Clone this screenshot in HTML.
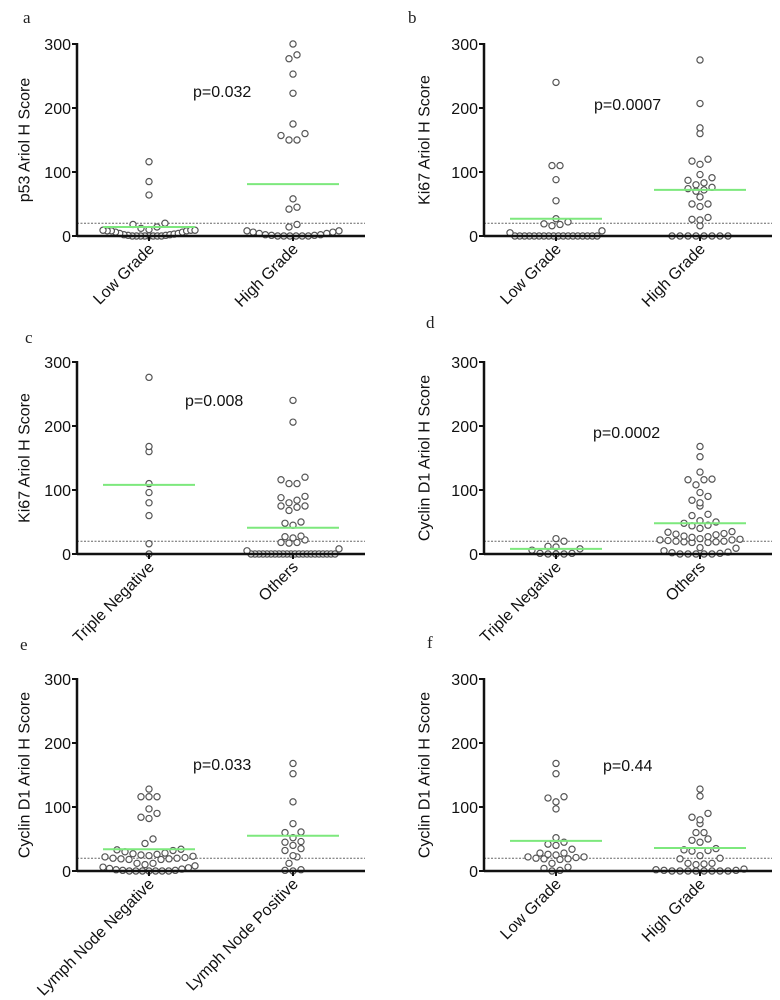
<!DOCTYPE html>
<html><head><meta charset="utf-8"><style>
html,body{margin:0;padding:0;background:#fff;}
svg{display:block;font-family:"Liberation Sans",Arial,sans-serif;}
</style></head><body>
<svg id="fig" width="780" height="1000" viewBox="0 0 780 1000" xmlns="http://www.w3.org/2000/svg"></svg>
<script>
// ---- data ----
const panelLetters = ["a","b","c","d","e","f"];
const yTitles = ["p53 Ariol H Score","Ki67 Ariol H Score","Ki67 Ariol H Score","Cyclin D1 Ariol H Score","Cyclin D1 Ariol H Score","Cyclin D1 Ariol H Score"];
const categoriesA = ["Low Grade","High Grade"];
const categoriesB = ["Low Grade","High Grade"];
const categoriesC = ["Triple Negative","Others"];
const categoriesD = ["Triple Negative","Others"];
const categoriesE = ["Lymph Node Negative","Lymph Node Positive"];
const categoriesF = ["Low Grade","High Grade"];
const pValues = ["p=0.032","p=0.0007","p=0.008","p=0.0002","p=0.033","p=0.44"];
const yTicks = [0,100,200,300];
const cutoff = 20;

const aLow = [116,85,64,20,18,14,12,10,9,9,8,6,4,3,2,1,0,0,0,0,0,0,0,0,1,2,4,6,8,8,9];
const aHigh = [300,283,277,253,223,175,160,157,150,150,58,45,42,18,14,8,6,4,2,1,0,0,0,0,0,0,1,2,4,6,8];
const bLow = [240,110,110,88,55,27,22,19,18,16,8,5,0,0,0,0,0,0,0,0,0,0,0,0,0,0,0,0,0,0];
const bHigh = [275,207,169,160,120,117,112,96,91,87,83,80,76,74,72,70,61,50,50,46,29,26,25,16,0,0,0,0,0,0,0,0];
const cTN = [276,168,160,110,96,80,60,16,0];
const cOthers = [240,206,120,116,110,110,90,88,84,80,75,75,73,68,50,48,45,28,27,25,22,18,18,17,8,5,0,0,0,0,0,0,0,0,0,0,0,0,0,0,0,0,0,0,0,0,0,0];
const dTN = [24,20,12,11,8,6,1,0,0,0,1];
const dOthers = [168,152,128,117,116,116,108,96,90,84,80,75,62,60,52,50,48,45,44,40,35,34,32,31,30,28,27,26,24,23,22,22,21,20,20,19,19,18,18,10,9,5,3,2,1,0,0,0,0,0];
const eNeg = [128,116,116,116,97,90,84,82,50,43,34,33,32,30,28,27,26,25,24,23,22,21,20,19,18,18,19,20,12,12,10,8,6,5,4,3,2,1,1,0,0,0,0,0,0,0];
const ePos = [168,152,108,74,61,60,52,46,45,40,35,32,24,22,12,2,1,0];
const fLow = [168,152,116,114,108,97,52,45,42,40,34,28,28,26,25,22,22,21,20,19,19,18,12,6,4,1,0];
const fHigh = [128,117,90,84,80,74,60,60,50,48,45,35,33,32,31,24,20,19,12,11,10,12,3,1,0,0,0,0,0,0,0,0,1,2];
const meansA = [14,81];
const meansB = [27,72];
const meansC = [108,41];
const meansD = [8,48];
const meansE = [34,55];
const meansF = [47,36];

const panels = [
  {cats:categoriesA, groups:[aLow,aHigh], means:meansA},
  {cats:categoriesB, groups:[bLow,bHigh], means:meansB},
  {cats:categoriesC, groups:[cTN,cOthers], means:meansC},
  {cats:categoriesD, groups:[dTN,dOthers], means:meansD},
  {cats:categoriesE, groups:[eNeg,ePos], means:meansE},
  {cats:categoriesF, groups:[fLow,fHigh], means:meansF}
];
// ---- layout ----
const NS="http://www.w3.org/2000/svg";
const svg=document.getElementById("fig");
function mk(tag,attrs,parent){const e=document.createElementNS(NS,tag);for(const k in attrs)e.setAttribute(k,attrs[k]);(parent||svg).appendChild(e);return e;}
const axX=[77,484], topY=[44,362,679], letterPos=[[23,23],[408,23],[25,343],[426,328],[20,650],[427,648]];
const pPos=[[193,97],[594,110],[185,406],[593,438],[193,770],[603,771]];
const titleX=[25,425];
const H=192, W=288;

function swarm(vals,yScale){
  const binPx=9, sp=8;
  const sorted=vals.map(v=>({v,y:yScale(v)})).sort((a,b)=>a.v-b.v);
  const bins={};
  sorted.forEach(p=>{const b=Math.floor((yScale(0)-p.y+3)/binPx);(bins[b]=bins[b]||[]).push(p);});
  const pts=[];
  Object.values(bins).forEach(arr=>{
    const n=arr.length;
    const slots=[];for(let i=0;i<n;i++)slots.push((i-(n-1)/2)*sp);
    slots.sort((a,b)=>Math.abs(a)-Math.abs(b));
    const m=Math.max(...slots.map(Math.abs));
    const k=m>46?46/m:1;
    arr.forEach((p,i)=>{p.x=slots[i]*k;pts.push(p);});
  });
  return pts;
}

panels.forEach((P,pi)=>{
  const col=pi%2,row=Math.floor(pi/2);
  const x0=axX[col], yTop=topY[row], y0=yTop+H;
  const yScale=v=>y0-v/300*H;
  const xCenter=i=>x0+72+i*144;
  const g=mk("g",{});
  
  
  const L=mk("text",{x:letterPos[pi][0],y:letterPos[pi][1],"font-family":"Liberation Serif,serif","font-size":17,fill:"#222"},g);
  L.textContent=panelLetters[pi];
  
  
  const tx=titleX[col], ty=yTop+H/2;
  const T=mk("text",{x:tx,y:ty,transform:`rotate(-90 ${tx} ${ty})`,"text-anchor":"middle","dominant-baseline":"central","font-size":16,fill:"#111"},g);
  T.textContent=yTitles[pi];
  
  
  yTicks.forEach(t=>{
    const ln=mk("line",{x1:x0-5,x2:x0,y1:yScale(t),y2:yScale(t),stroke:"#111","stroke-width":2},g);
    
    
    const tl=mk("text",{x:x0-6,y:yScale(t)+6,"text-anchor":"end","font-size":16,fill:"#111"},g);
    tl.textContent=t;
    
    
  });
  const cl=mk("line",{x1:x0,x2:x0+W,y1:yScale(cutoff),y2:yScale(cutoff),stroke:"#666","stroke-width":1,"stroke-dasharray":"2,1.5"},g);
  
  
  P.groups.forEach((vals,gi)=>{
    const cx=xCenter(gi);
    swarm(vals,yScale).forEach(p=>{
      const c=mk("circle",{cx:cx+p.x,cy:p.y,r:3.1,fill:"#fff",stroke:"#555","stroke-width":1.2},g);
      
      
    });
  });
  P.means.forEach((m,gi)=>{
    const cx=xCenter(gi);
    const ml=mk("line",{x1:cx-46,x2:cx+46,y1:yScale(m),y2:yScale(m),stroke:"#7de87d","stroke-width":2},g);
    
    
  });
  const ya=mk("line",{x1:x0,x2:x0,y1:yTop-1,y2:y0+1,stroke:"#111","stroke-width":2.5},g);
  
  
  const xa=mk("line",{x1:x0,x2:x0+W,y1:y0,y2:y0,stroke:"#111","stroke-width":2.5},g);
  
  
  P.cats.forEach((c,gi)=>{
    const cx=xCenter(gi);
    const tk=mk("line",{x1:cx,x2:cx,y1:y0,y2:y0+5,stroke:"#111","stroke-width":2},g);
    
    
    const lx=cx+6, ly=y0+14;
    const ct=mk("text",{x:lx,y:ly,transform:`rotate(-45 ${lx} ${ly})`,"text-anchor":"end","font-size":16,fill:"#111"},g);
    ct.textContent=c;
    
    
  });
  const pv=mk("text",{x:pPos[pi][0],y:pPos[pi][1],"font-size":16,fill:"#111"},g);
  pv.textContent=pValues[pi];
  
  
});
</script>
</body></html>
